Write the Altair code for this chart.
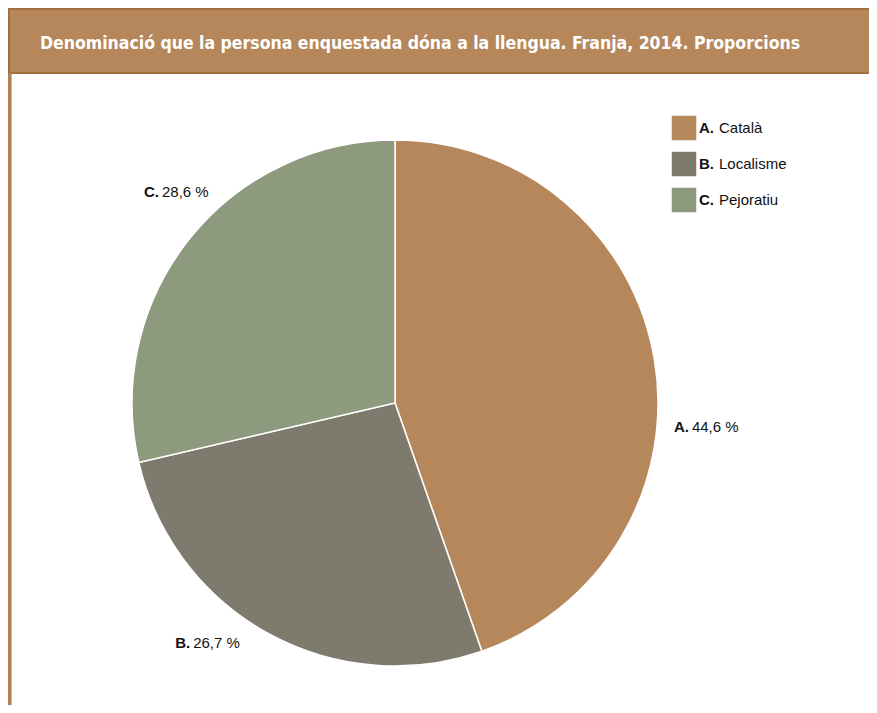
import altair as alt
import pandas as pd

# ---- data ----
letters = ["A", "B", "C"]
names = ["Català", "Localisme", "Pejoratiu"]
values = [44.6, 26.7, 28.6]
value_labels = ["44,6 %", "26,7 %", "28,6 %"]
colors = ["#B5875B", "#7E7B6E", "#8D9A7E"]
title_text = "Denominació que la persona enquestada dóna a la llengua. Franja, 2014. Proporcions"

df = pd.DataFrame({
    "letter": letters,
    "name": names,
    "value": values,
    "vlabel": value_labels,
    "order": list(range(len(letters))),
})
df["bold"] = df["letter"] + "."
total = float(sum(values))

W, H = 861, 697
CX, CY, R = 387, 395, 263
FONT = "Liberation Sans"

color_scale = alt.Scale(domain=letters, range=colors)

base = alt.Chart(df)

pie = base.mark_arc(outerRadius=R, stroke="white", strokeWidth=1.5).encode(
    theta=alt.Theta("value:Q", stack=True),
    order=alt.Order("order:Q"),
    color=alt.Color("letter:N", scale=color_scale, legend=None),
    x=alt.value(CX),
    y=alt.value(CY),
)

# label offsets (relative to mid-angle point at radius 290)
offsets = {"A": (9, 73), "B": (-64, -14), "C": (-8, -31)}

label_layers = []
for L in letters:
    dx, dy = offsets[L]
    lb = (
        base.transform_window(cum="sum(value)", sort=[alt.SortField("order")])
        .transform_calculate(mid="datum.cum - datum.value / 2")
        .transform_filter(alt.datum.letter == L)
    )
    enc = dict(
        theta=alt.Theta("mid:Q", scale=alt.Scale(domain=[0, total])),
        radius=alt.value(290),
        x=alt.value(CX),
        y=alt.value(CY),
    )
    label_layers.append(
        lb.mark_text(align="right", baseline="middle", dx=dx - 1, dy=dy,
                     font=FONT, fontSize=15, fontWeight="bold", color="#111111")
        .encode(text="bold:N", **enc)
    )
    label_layers.append(
        lb.mark_text(align="left", baseline="middle", dx=dx + 2, dy=dy,
                     font=FONT, fontSize=15, color="#111111")
        .encode(text="vlabel:N", **enc)
    )

# ---- legend (manual) ----
ly = alt.Y("letter:N", scale=alt.Scale(type="point", domain=letters, range=[120, 192], padding=0), axis=None)
leg_sq = base.mark_square(size=600, opacity=1).encode(
    x=alt.value(676),
    y=ly,
    color=alt.Color("letter:N", scale=color_scale, legend=None),
)
leg_bold = base.mark_text(align="left", baseline="middle", font=FONT, fontSize=15,
                          fontWeight="bold", color="#111111").encode(
    x=alt.value(691), y=ly, text="bold:N")
leg_name = base.mark_text(align="left", baseline="middle", font=FONT, fontSize=15,
                          color="#111111").encode(
    x=alt.value(711), y=ly, text="name:N")

# ---- title bar & frame ----
one = alt.Chart(pd.DataFrame({"t": [title_text]}))
bar = one.mark_rect(fill="#B5875B", stroke="#A46F40", strokeWidth=2).encode(
    x=alt.value(1), x2=alt.value(W + 5), y=alt.value(1), y2=alt.value(65))
left_line = one.mark_rule(color="#B07E4F", strokeWidth=3.5).encode(
    x=alt.value(1.8), y=alt.value(65), y2=alt.value(H + 5))
title = one.mark_text(align="left", baseline="middle", font="DejaVu Sans Condensed",
                      fontSize=17.5, fontWeight="bold", color="white").encode(
    x=alt.value(32), y=alt.value(36), text="t:N")

chart = alt.layer(
    bar, left_line, title, pie, *label_layers, leg_sq, leg_bold, leg_name
).resolve_scale(y="independent").properties(
    width=W, height=H, autosize=alt.AutoSizeParams(type="none"), padding=0,
    background="white",
).configure_view(stroke=None)

chart.save("out.html", embed_options={"renderer": "svg", "actions": False})
